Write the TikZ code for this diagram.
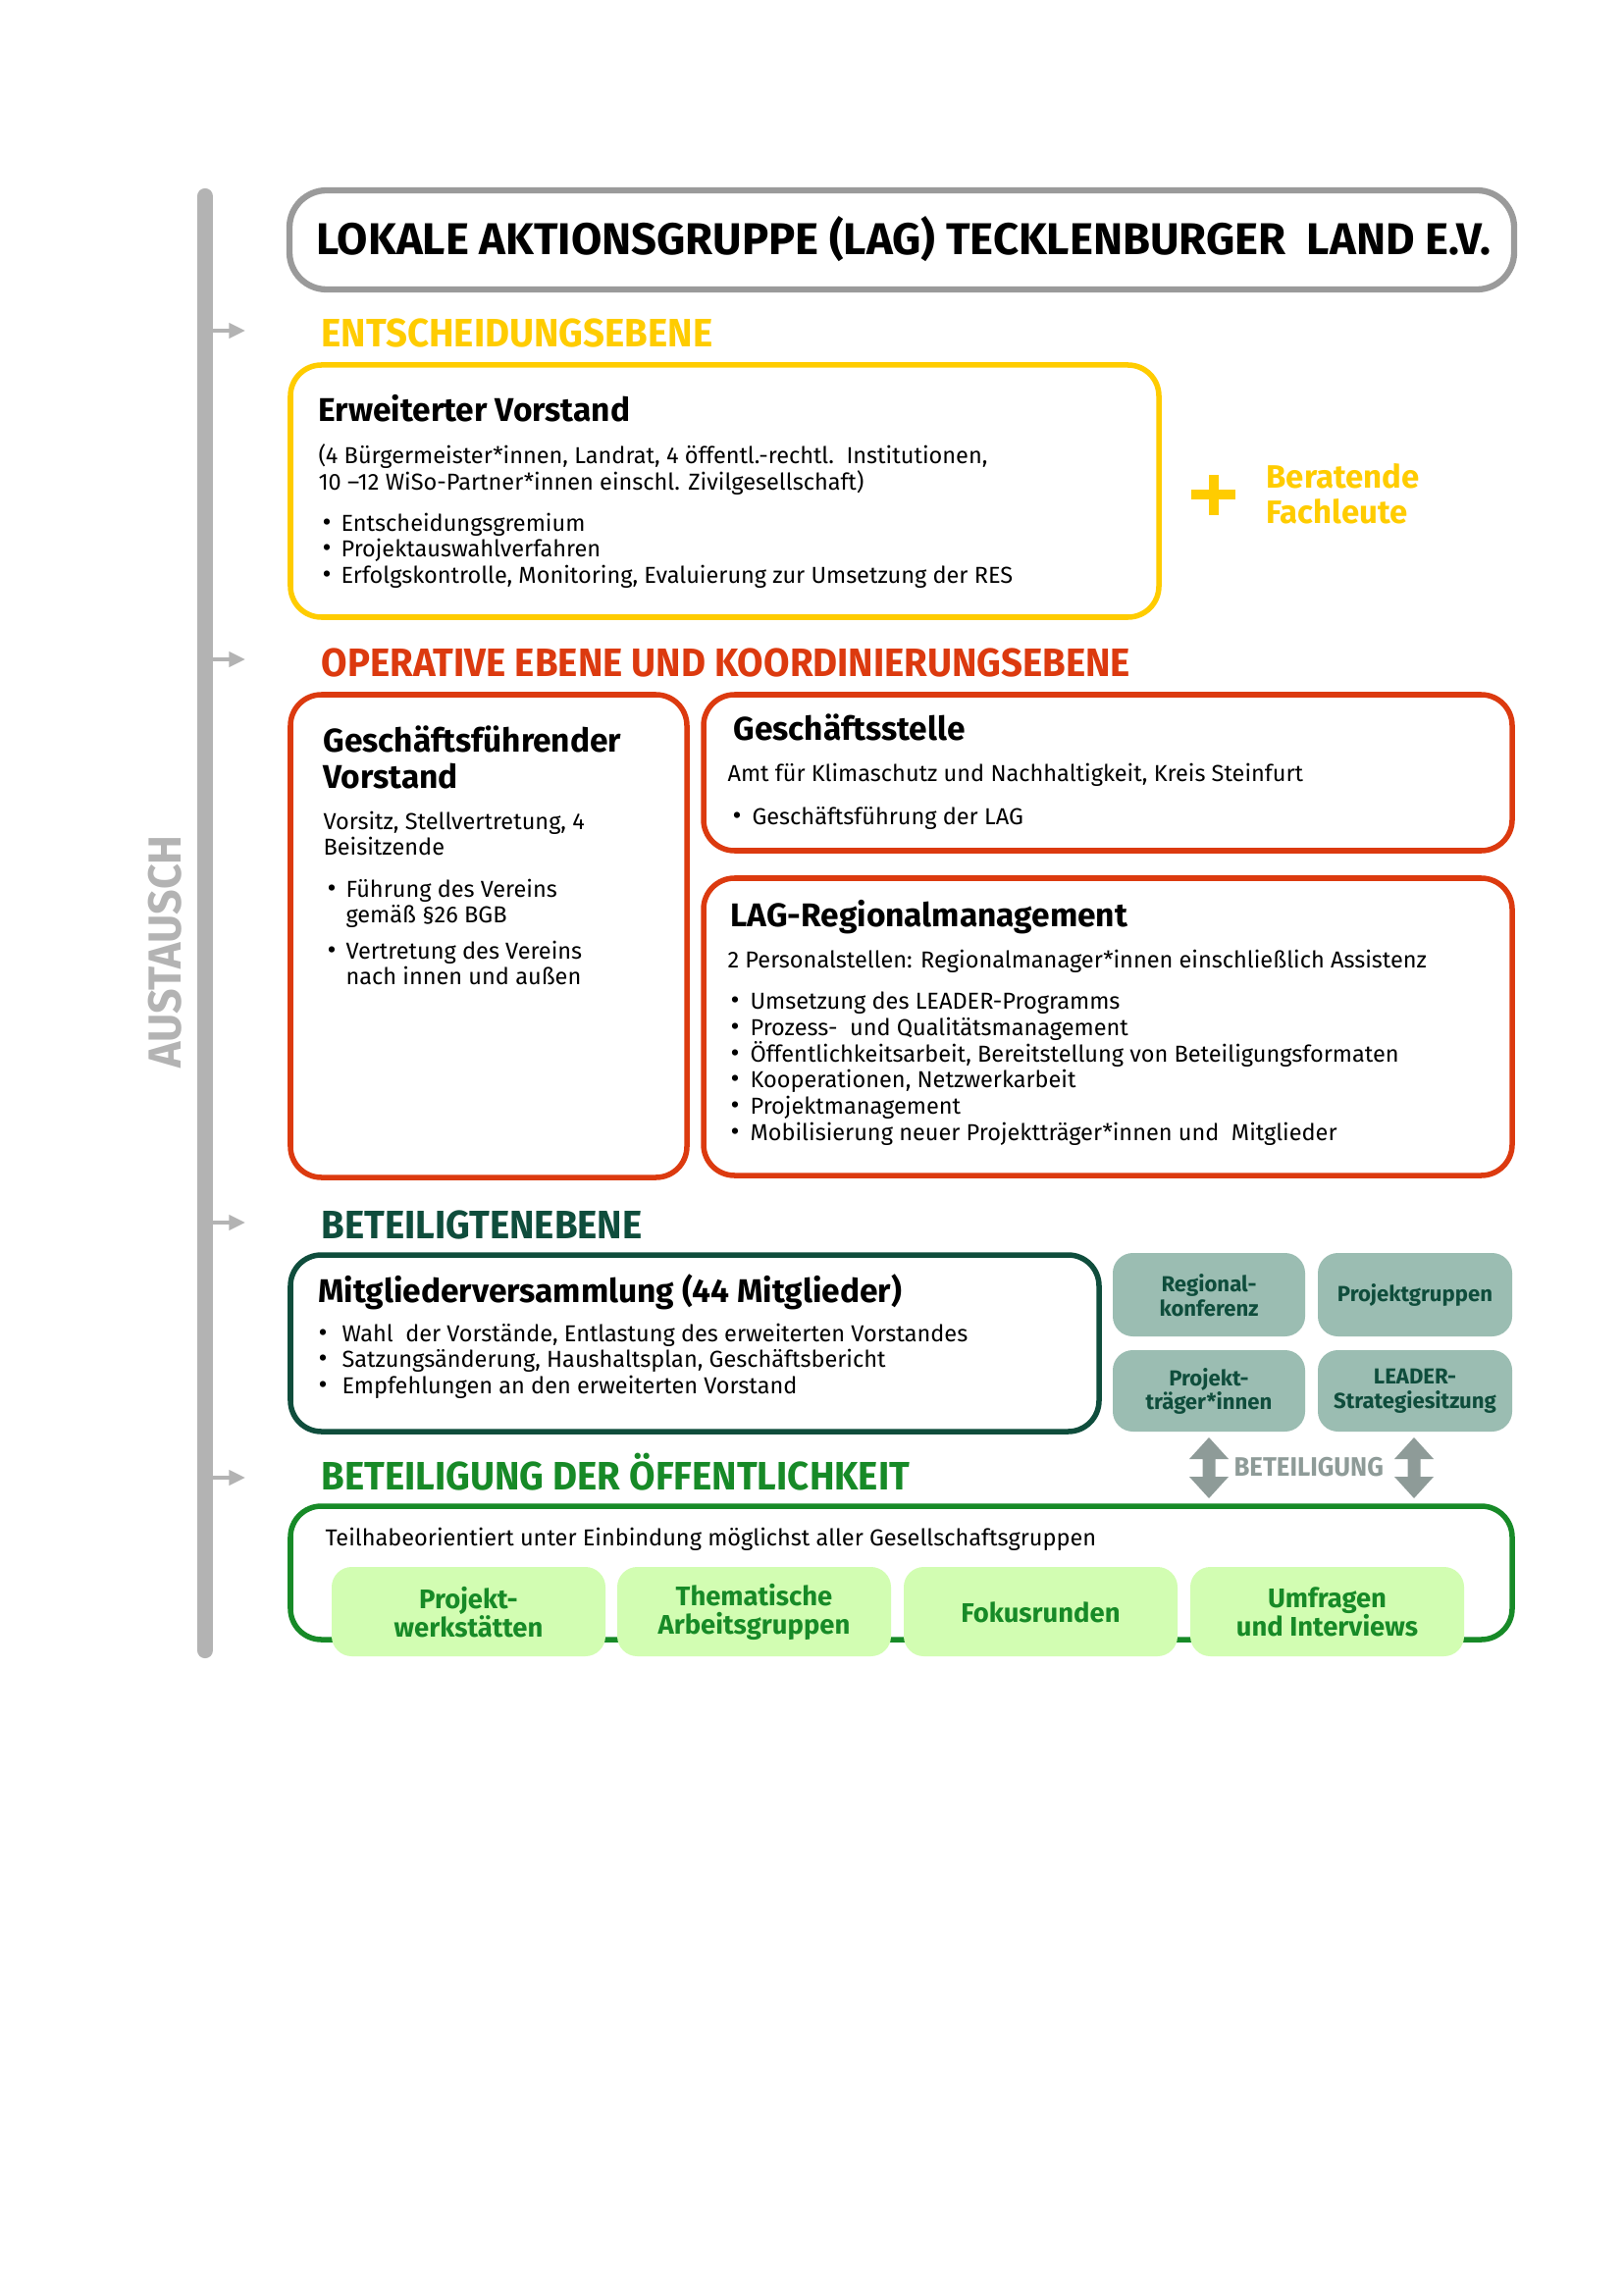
\documentclass[tikz,border=0pt]{standalone}
\usepackage{fontspec}
\setmainfont{Fira Sans}
\newfontfamily\hfont[FakeStretch=0.95]{Fira Sans}
\usetikzlibrary{arrows.meta}
\definecolor{yellowc}{HTML}{FFCC00}
\definecolor{redc}{HTML}{DC3A0F}
\definecolor{dgreen}{HTML}{0F4D3C}
\definecolor{sage}{HTML}{9BBDB2}
\definecolor{lgreen}{HTML}{D2FDB2}
\definecolor{greenc}{HTML}{178A27}
\definecolor{graybar}{HTML}{B3B3B3}
\definecolor{titlegray}{HTML}{9A9A9A}
\definecolor{arrowgray}{HTML}{8E9B98}
\begin{document}
\begin{tikzpicture}[x=0.12696mm,y=-0.12696mm,
  every node/.style={inner sep=0pt},
  hd/.style={font=\hfont\bfseries\fontsize{14.6}{16}\selectfont, anchor=base west},
  body/.style={font=\fontsize{8.5}{9.8}\selectfont, anchor=base west},
  btitle/.style={font=\bfseries\fontsize{12.1}{13}\selectfont, anchor=base west},
  bul/.style={font=\fontsize{10}{10}\selectfont, anchor=base west},
  boxline/.style={line width=0.7mm, rounded corners=4mm},
  sagebox/.style={fill=sage, rounded corners=2.6mm},
  sagetext/.style={font=\bfseries\fontsize{8}{9}\selectfont, text=dgreen, align=center},
  lgbox/.style={fill=lgreen, rounded corners=2.6mm},
  lgtext/.style={font=\bfseries\fontsize{9.9}{10.6}\selectfont, text=greenc, align=center},
  sidearrow/.style={draw=graybar, line width=0.45mm, -{Triangle[length=2.1mm,width=1.9mm]}}
]
\useasboundingbox[fill=white] (0,0) rectangle (1654,2339);

% ---- side bar ----
\draw[graybar, line width=2.05mm, line cap=round] (209,200) -- (209,1682);
\coordinate (b1) at (217,337); \coordinate (e1) at (250,337);
\coordinate (b2) at (217,672); \coordinate (e2) at (250,672);
\coordinate (b3) at (217,1246); \coordinate (e3) at (250,1246);
\coordinate (b4) at (217,1506); \coordinate (e4) at (250,1506);
\draw[sidearrow] (b1) -- (e1);
\draw[sidearrow] (b2) -- (e2);
\draw[sidearrow] (b3) -- (e3);
\draw[sidearrow] (b4) -- (e4);
\node[rotate=90, text=graybar, font=\hfont\bfseries\fontsize{17}{18}\selectfont] (aust) at (168,970) {AUSTAUSCH};

% ---- title ----
\draw[titlegray, line width=0.8mm, rounded corners=4.8mm] (295,194) rectangle (1543,295);
\node[anchor=base west, font=\bfseries\fontsize{16.4}{18}\selectfont] (title) at (322,260) {LOKALE AKTIONSGRUPPE (LAG) TECKLENBURGER\ \ LAND E.V.};

% ---- Entscheidungsebene ----
\node[hd, text=yellowc] (h1) at (327,354) {ENTSCHEIDUNGSEBENE};
\draw[boxline, yellowc] (296,372) rectangle (1181,629);
\node[btitle] (ev) at (324,430) {Erweiterter Vorstand};
\node[body] (ev1) at (324,473) {(4 Bürgermeister*innen, Landrat, 4 öffentl.-rechtl.\ \ Institutionen,};
\node[body] (ev2) at (324,500) {10 –12 WiSo-Partner*innen einschl. Zivilgesellschaft)};
\node[bul] at (328,542) {•}; \node[body] (evb1) at (347,542) {Entscheidungsgremium};
\node[bul] at (328,568) {•}; \node[body] (evb2) at (347,568) {Projektauswahlverfahren};
\node[bul] at (328,595) {•}; \node[body] (evb3) at (347,595) {Erfolgskontrolle, Monitoring, Evaluierung zur Umsetzung der RES};

\fill[yellowc] (1214,499) rectangle (1259,509);
\fill[yellowc] (1232,484) rectangle (1242,525);
\node[anchor=base west, text=yellowc, font=\bfseries\fontsize{11.9}{13}\selectfont] (ber1) at (1290,498) {Beratende};
\node[anchor=base west, text=yellowc, font=\bfseries\fontsize{11.9}{13}\selectfont] (ber2) at (1290,534) {Fachleute};

% ---- Operative Ebene ----
\node[hd, text=redc] (h2) at (327,690) {OPERATIVE EBENE UND KOORDINIERUNGSEBENE};
\draw[boxline, redc] (296,708) rectangle (700,1200);
\draw[boxline, redc] (717,708) rectangle (1541,867);
\draw[boxline, redc] (717,895) rectangle (1541,1198);

\node[btitle] (gf1) at (329,766) {Geschäftsführender};
\node[btitle] (gf2) at (329,803) {Vorstand};
\node[body] (gf3) at (329,845) {Vorsitz, Stellvertretung, 4};
\node[body] (gf4) at (329,871) {Beisitzende};
\node[bul] at (333,914) {•}; \node[body] (gfb1) at (352,914) {Führung des Vereins};
\node[body] (gfb1b) at (352,940) {gemäß §26 BGB};
\node[bul] at (333,977) {•}; \node[body] (gfb2) at (352,977) {Vertretung des Vereins};
\node[body] (gfb2b) at (352,1003) {nach innen und außen};

\node[btitle] (gs1) at (747,755) {Geschäftsstelle};
\node[body] (gs2) at (741,797) {Amt für Klimaschutz und Nachhaltigkeit, Kreis Steinfurt};
\node[bul] at (746,840) {•}; \node[body] (gsb1) at (766,840) {Geschäftsführung der LAG};

\node[btitle] (rm1) at (744,944) {LAG-Regionalmanagement};
\node[body] (rm2) at (741,986) {2 Personalstellen: Regionalmanager*innen einschließlich Assistenz};
\node[bul] at (744,1028) {•}; \node[body] (rmb1) at (764,1028) {Umsetzung des LEADER-Programms};
\node[bul] at (744,1055) {•}; \node[body] (rmb2) at (764,1055) {Prozess-\ \ und Qualitätsmanagement};
\node[bul] at (744,1082) {•}; \node[body] (rmb3) at (764,1082) {Öffentlichkeitsarbeit, Bereitstellung von Beteiligungsformaten};
\node[bul] at (744,1108) {•}; \node[body] (rmb4) at (764,1108) {Kooperationen, Netzwerkarbeit};
\node[bul] at (744,1135) {•}; \node[body] (rmb5) at (764,1135) {Projektmanagement};
\node[bul] at (744,1162) {•}; \node[body] (rmb6) at (764,1162) {Mobilisierung neuer Projektträger*innen und\ \ Mitglieder};

% ---- Beteiligtenebene ----
\node[hd, text=dgreen] (h3) at (327,1262) {BETEILIGTENEBENE};
\draw[boxline, dgreen] (296,1279) rectangle (1120,1459);
\node[btitle] (mv) at (324,1327) {Mitgliederversammlung (44 Mitglieder)};
\node[bul] at (324,1367) {•}; \node[body] (mvb1) at (348,1367) {Wahl\ \ der Vorstände, Entlastung des erweiterten Vorstandes};
\node[bul] at (324,1393) {•}; \node[body] (mvb2) at (348,1393) {Satzungsänderung, Haushaltsplan, Geschäftsbericht};
\node[bul] at (324,1420) {•}; \node[body] (mvb3) at (348,1420) {Empfehlungen an den erweiterten Vorstand};

\fill[sagebox] (1134,1277) rectangle (1330,1362);
\fill[sagebox] (1343,1277) rectangle (1541,1362);
\fill[sagebox] (1134,1376) rectangle (1330,1459);
\fill[sagebox] (1343,1376) rectangle (1541,1459);
\node[sagetext] (s1) at (1232,1320) {Regional-\\konferenz};
\node[sagetext] (s2) at (1442,1320) {Projektgruppen};
\node[sagetext] (s3) at (1232,1418) {Projekt-\\träger*innen};
\node[sagetext] (s4) at (1442,1418) {LEADER-\\Strategiesitzung};

% double arrows
\foreach \cx in {1232,1441}{
  \fill[arrowgray] (\cx,1465) -- (\cx+20,1487) -- (\cx+6.5,1487) -- (\cx+6.5,1505) -- (\cx+20,1505)
    -- (\cx,1527) -- (\cx-20,1505) -- (\cx-6.5,1505) -- (\cx-6.5,1487) -- (\cx-20,1487) -- cycle;
}
\node[anchor=base west, text=arrowgray, font=\hfont\bfseries\fontsize{9.8}{12}\selectfont] (bet) at (1257,1504) {BETEILIGUNG};

% ---- Beteiligung der Oeffentlichkeit ----
\node[hd, text=greenc] (h4) at (327,1518) {BETEILIGUNG DER ÖFFENTLICHKEIT};
\draw[boxline, greenc] (296,1535) rectangle (1541,1671);
\node[body] (teil) at (331,1575) {Teilhabeorientiert unter Einbindung möglichst aller Gesellschaftsgruppen};
\fill[lgbox] (338,1597) rectangle (617,1688);
\fill[lgbox] (629,1597) rectangle (908,1688);
\fill[lgbox] (921,1597) rectangle (1200,1688);
\fill[lgbox] (1213,1597) rectangle (1492,1688);
\node[lgtext] (l1) at (477.5,1643) {Projekt-\\werkstätten};
\node[lgtext] (l2) at (768.5,1643) {Thematische\\Arbeitsgruppen};
\node[lgtext] (l3) at (1060.5,1643) {Fokusrunden};
\node[lgtext] (l4) at (1352.5,1643) {Umfragen\\und Interviews};
\end{tikzpicture}
\end{document}
